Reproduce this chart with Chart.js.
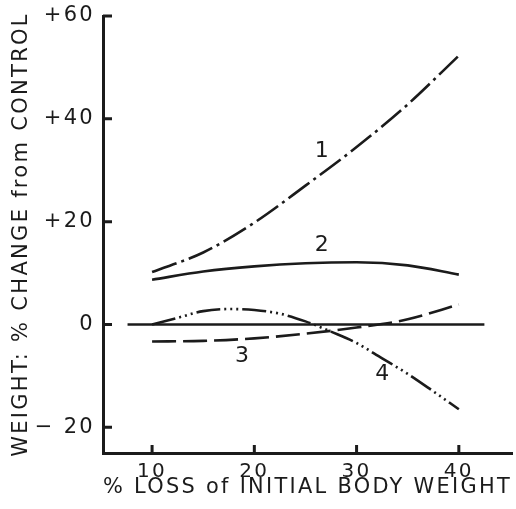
<!DOCTYPE html>
<html>
<head>
<meta charset="utf-8">
<script src="https://cdn.jsdelivr.net/npm/chart.js@4.4.1/dist/chart.umd.min.js"></script>
<style>
  html, body { margin: 0; padding: 0; background: #fff; }
  #wrap { width: 516px; height: 509px; }
</style>
</head>
<body>
<div id="wrap"><canvas id="weightChart" width="516" height="509"></canvas></div>
<script>
// % loss of initial body weight vs. % weight change from control
const lossPct = [10, 15, 20, 25, 30, 35, 40];
const curve1 = [10.2, 14, 19.8, 27, 34.5, 42.8, 52.3];
const curve2 = [8.7, 10.3, 11.3, 11.9, 12.1, 11.5, 9.7];
const curve3 = [-3.3, -3.2, -2.7, -1.8, -0.6, 1.0, 3.9];
const lossPct4 = [10, 12.5, 15, 17.5, 20, 22.5, 25, 27.5, 30, 32.5, 35, 37.5, 40];
const curve4 = [0, 1.3, 2.6, 3.0, 2.8, 2.1, 0.6, -1.4, -3.6, -6.6, -9.6, -13, -16.5];
const controlX = [7.6, 42.5];
const controlY = [0, 0];

const xTicks = [10, 20, 30, 40];
const yTicks = [-20, 0, 20, 40, 60];

// curve numbers and where they sit
const curveNames = ['1', '2', '3', '4'];
const labelX = [26.6, 26.6, 18.8, 32.5];
const labelY = [33.6, 15.5, -6.2, -9.7];

const ink = '#1b1b1b';

const toPoints = (xs, ys) => xs.map((v, i) => ({ x: v, y: ys[i] }));

// ticks point inward, plus the curve numbers
const inwardTicks = {
    id: 'inwardTicks',
    beforeDraw(chart) {
        chart.ctx.letterSpacing = '2.3px';
    },
    afterDraw(chart) {
        const { ctx, chartArea, scales: { x, y } } = chart;
        ctx.save();
        ctx.strokeStyle = ink;
        ctx.lineWidth = 3;
        ctx.beginPath();
        yTicks.forEach(v => {
            const py = y.getPixelForValue(v);
            ctx.moveTo(chartArea.left, py);
            ctx.lineTo(chartArea.left + 9, py);
        });
        xTicks.forEach(v => {
            const px = x.getPixelForValue(v);
            ctx.moveTo(px, chartArea.bottom);
            ctx.lineTo(px, chartArea.bottom - 8);
        });
        ctx.stroke();

        ctx.letterSpacing = '0px';
        ctx.fillStyle = ink;
        ctx.font = '22px "DejaVu Sans"';
        ctx.textAlign = 'center';
        ctx.textBaseline = 'middle';
        curveNames.forEach((t, i) => {
            ctx.fillText(t, x.getPixelForValue(labelX[i]), y.getPixelForValue(labelY[i]));
        });
        ctx.restore();
    }
};

Chart.defaults.font.family = '"DejaVu Sans"';
Chart.defaults.color = ink;

const lineStyle = {
    borderColor: ink,
    borderWidth: 2.6,
    pointRadius: 0,
    fill: false,
    cubicInterpolationMode: 'monotone'
};

new Chart(document.getElementById('weightChart'), {
    type: 'line',
    data: {
        datasets: [
            { ...lineStyle, label: 'Control', data: toPoints(controlX, controlY) },
            { ...lineStyle, label: '1', data: toPoints(lossPct, curve1), borderDash: [26, 5, 3, 5] },
            { ...lineStyle, label: '2', data: toPoints(lossPct, curve2) },
            { ...lineStyle, label: '3', data: toPoints(lossPct, curve3), borderDash: [24, 7] },
            { ...lineStyle, label: '4', data: toPoints(lossPct4, curve4), borderDash: [24, 4, 2, 4, 2, 4, 2, 4] }
        ]
    },
    options: {
        responsive: false,
        animation: false,
        layout: { padding: { top: 16, right: 4, bottom: 0, left: 0 } },
        plugins: {
            legend: { display: false },
            tooltip: { enabled: false }
        },
        scales: {
            x: {
                type: 'linear',
                min: 5.2,
                max: 45.2,
                afterBuildTicks: s => { s.ticks = xTicks.map(v => ({ value: v })); },
                afterFit: s => { s.height = 56; },
                grid: { display: false },
                border: { display: true, color: ink, width: 3 },
                ticks: {
                    color: ink,
                    font: { size: 20 },
                    padding: -1,
                    maxRotation: 0,
                    autoSkip: false,
                    callback: v => String(v)
                },
                title: {
                    display: true,
                    text: '% LOSS of INITIAL BODY WEIGHT',
                    color: ink,
                    font: { size: 21 },
                    padding: { top: 0, bottom: 9 }
                }
            },
            y: {
                type: 'linear',
                min: -25,
                max: 60,
                afterBuildTicks: s => { s.ticks = yTicks.map(v => ({ value: v })); },
                afterFit: s => { s.width = 103; },
                grid: { display: false },
                border: { display: true, color: ink, width: 3 },
                ticks: {
                    color: ink,
                    font: { size: 21 },
                    padding: 0,
                    callback: v => v > 0 ? '+' + v : (v < 0 ? '\u2212 ' + Math.abs(v) : '0')
                },
                title: {
                    display: true,
                    text: 'WEIGHT: % CHANGE from CONTROL',
                    color: ink,
                    font: { size: 21 },
                    padding: { top: 9, bottom: 0 }
                }
            }
        }
    },
    plugins: [inwardTicks]
});
</script>
</body>
</html>
